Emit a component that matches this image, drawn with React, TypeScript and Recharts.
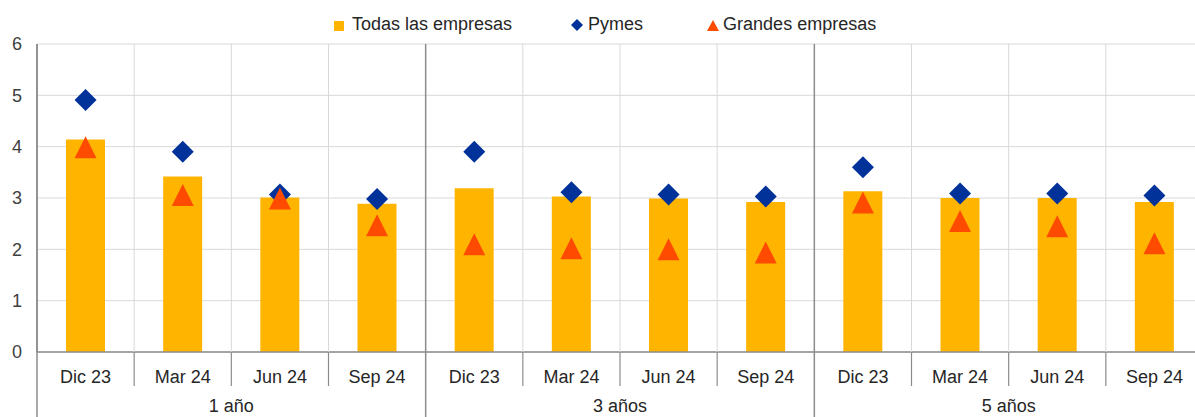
import { ComposedChart, Bar, Scatter, XAxis, YAxis, CartesianGrid, Legend } from 'recharts';

// groups and periods on the category axis
const groups = ['1 año', '3 años', '5 años'];
const periods = ['Dic 23', 'Mar 24', 'Jun 24', 'Sep 24'];

// series values, in order 1 año / 3 años / 5 años x Dic 23..Sep 24
const todas = [4.14, 3.42, 3.01, 2.89, 3.19, 3.03, 2.99, 2.92, 3.13, 3.0, 3.0, 2.92];
const pymes = [4.91, 3.9, 3.07, 2.98, 3.9, 3.11, 3.07, 3.03, 3.6, 3.09, 3.09, 3.05];
const grandes = [3.99, 3.06, 2.99, 2.47, 2.1, 2.02, 2.0, 1.94, 2.91, 2.55, 2.45, 2.12];

const yTicks = [0, 1, 2, 3, 4, 5, 6];

const BAR = '#FFB400';
const BLUE = '#003299';
const ORANGE = '#FF4B00';
const GRID = '#d9d9d9';
const AXIS = '#8c8c8c';
const TEXT = '#262626';

const CHART_W = 1203;
const CHART_H = 417;
const TOP = 4;
const LEGEND_H = 40;
const XAXIS_H = 65;
const PLOT_H = CHART_H - TOP - LEGEND_H - XAXIS_H;

const data = todas.map((v, i) => ({ pos: i + 0.5, todas: v, pymes: pymes[i], grandes: grandes[i] }));
const n = todas.length;
const xTicks = Array.from({ length: 2 * n + 1 }, (_, i) => i / 2);

function Diamond(props: any) {
  const { cx, cy } = props;
  const r = 11;
  return <polygon points={`${cx},${cy - r} ${cx + r},${cy} ${cx},${cy + r} ${cx - r},${cy}`} fill={BLUE} />;
}

function Triangle(props: any) {
  const { cx, cy } = props;
  const h = 11;
  return <polygon points={`${cx},${cy - h} ${cx + h},${cy + h} ${cx - h},${cy + h}`} fill={ORANGE} />;
}

function XTick(props: any) {
  const { x, y, payload } = props;
  const v = payload.value;
  const per = periods.length;
  if (Number.isInteger(v)) {
    const isGroup = v % per === 0;
    return (
      <g>
        <line x1={x} x2={x} y1={y - PLOT_H} y2={y} stroke={isGroup ? AXIS : GRID} strokeWidth={isGroup ? 1.5 : 1} />
        <line x1={x} x2={x} y1={y} y2={y + (isGroup ? 70 : 34)} stroke={AXIS} strokeWidth={isGroup ? 1.5 : 1.2} />
        {v % per === per / 2 && (
          <text x={x} y={y + 60} textAnchor="middle" fontSize={18} fill={TEXT}>
            {groups[Math.floor(v / per)]}
          </text>
        )}
      </g>
    );
  }
  return (
    <text x={x} y={y + 31} textAnchor="middle" fontSize={18} fill={TEXT}>
      {periods[Math.floor(v) % per]}
    </text>
  );
}

function renderLegend() {
  const item = { display: 'flex', alignItems: 'center', fontSize: 18, color: TEXT };
  return (
    <div style={{ height: LEGEND_H, boxSizing: 'border-box', paddingTop: 9, paddingLeft: 334, display: 'flex', alignItems: 'flex-start', lineHeight: '22px' }}>
      <div style={{ ...item, marginRight: 59 }}>
        <svg width={10} height={10} style={{ marginRight: 8, marginTop: 4 }}>
          <rect width={10} height={10} fill={BAR} />
        </svg>
        Todas las empresas
      </div>
      <div style={{ ...item, marginRight: 64 }}>
        <svg width={12} height={12} style={{ marginRight: 5, marginTop: 2 }}>
          <polygon points="6,0 12,6 6,12 0,6" fill={BLUE} />
        </svg>
        Pymes
      </div>
      <div style={item}>
        <svg width={12} height={11} style={{ marginRight: 4, marginTop: 2 }}>
          <polygon points="6,0 12,11 0,11" fill={ORANGE} />
        </svg>
        Grandes empresas
      </div>
    </div>
  );
}

export default function App() {
  return (
    <div
      style={{
        position: 'absolute',
        left: 0,
        top: 0,
        width: 1195,
        height: 417,
        overflow: 'hidden',
        background: '#fff',
        fontFamily: '"Liberation Sans", Arial, sans-serif',
      }}
    >
      <ComposedChart width={CHART_W} height={CHART_H} data={data} margin={{ top: TOP, right: 0, bottom: 0, left: 0 }}>
        <Legend verticalAlign="top" align="left" content={renderLegend} />
        <CartesianGrid vertical={false} stroke={GRID} />
        <XAxis
          dataKey="pos"
          type="number"
          domain={[0, n]}
          ticks={xTicks}
          interval={0}
          height={XAXIS_H}
          tickSize={0}
          tickMargin={0}
          tickLine={false}
          axisLine={{ stroke: AXIS, strokeWidth: 1.5 }}
          tick={XTick}
        />
        <YAxis
          domain={[0, 6]}
          ticks={yTicks}
          width={37}
          tickSize={0}
          tickMargin={15}
          tickLine={false}
          axisLine={{ stroke: AXIS, strokeWidth: 1.5 }}
          tick={{ fontSize: 18, fill: '#404040' }}
        />
        <Bar dataKey="todas" name="Todas las empresas" fill={BAR} barSize={39} isAnimationActive={false} />
        <Scatter dataKey="pymes" name="Pymes" shape={Diamond} isAnimationActive={false} />
        <Scatter dataKey="grandes" name="Grandes empresas" shape={Triangle} isAnimationActive={false} />
      </ComposedChart>
    </div>
  );
}
